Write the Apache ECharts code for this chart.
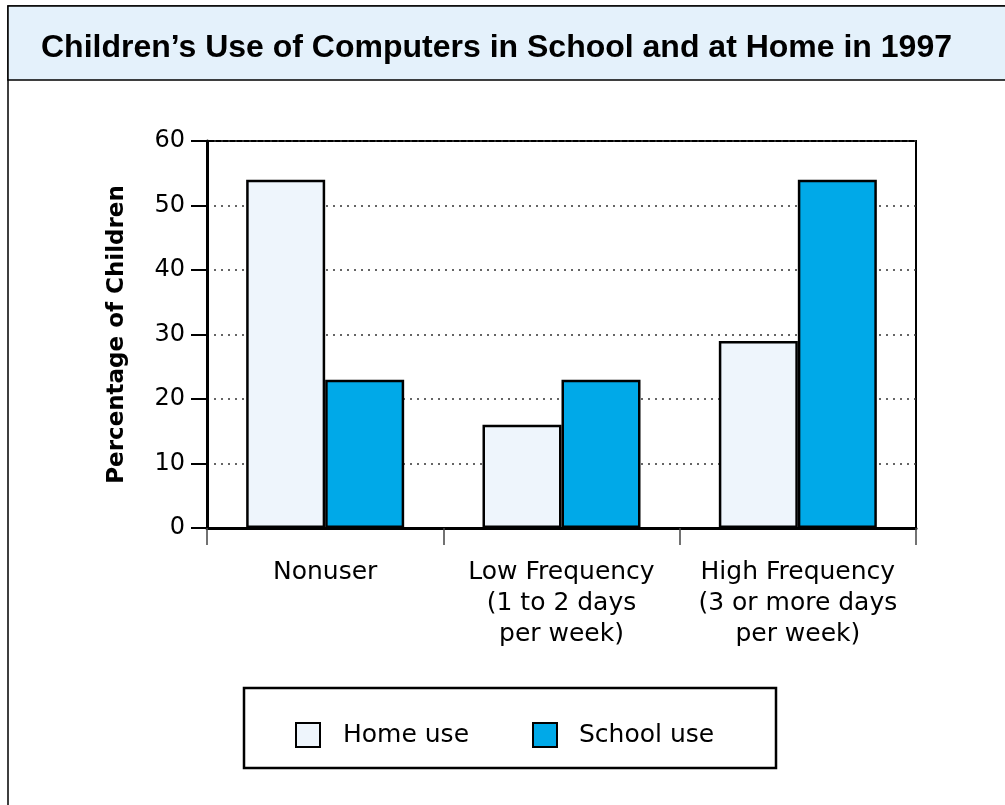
<!DOCTYPE html>
<html>
<head>
<meta charset="utf-8">
<script src="https://cdn.jsdelivr.net/npm/echarts@6/dist/echarts.min.js"></script>
<style>
  html, body { margin: 0; padding: 0; background: #fff; }
  #main { width: 1005px; height: 805px; }
</style>
</head>
<body>
<div id="main"></div>
<script>
// data
var categories = ['Nonuser', 'Low Frequency\n(1 to 2 days\nper week)', 'High Frequency\n(3 or more days\nper week)'];
var homeUse = [54, 16, 29];
var schoolUse = [23, 23, 54];
var seriesNames = ['Home use', 'School use'];

var myChart = echarts.init(document.getElementById('main'));
var bodyFont = 'DejaVu Sans';

var option = {
    backgroundColor: '#fff',
    animation: false,
    graphic: [
        // outer frame
        { type: 'rect', shape: { x: 8, y: 6, width: 1010, height: 820 },
          style: { fill: '#fff', stroke: '#000', lineWidth: 1.5 }, z: -10 },
        // title band
        { type: 'rect', shape: { x: 8, y: 6, width: 1010, height: 74 },
          style: { fill: '#e4f1fb', stroke: '#000', lineWidth: 1.5 }, z: -9 },
        // legend box
        { type: 'rect', shape: { x: 244, y: 688, width: 532, height: 80 },
          style: { fill: 'none', stroke: '#000', lineWidth: 2.5 }, z: 5 }
    ],
    title: {
        text: 'Children\u2019s Use of Computers in School and at Home in 1997',
        left: 36,
        top: 27,
        textStyle: { fontFamily: 'Liberation Sans', fontWeight: 'bold', fontSize: 32, color: '#000' }
    },
    legend: [
        { data: [seriesNames[0]], left: 290, top: 717, itemWidth: 24, itemHeight: 24, icon: 'rect',
          textStyle: { fontFamily: bodyFont, fontSize: 25, color: '#000', padding: [0, 0, 0, 18] } },
        { data: [seriesNames[1]], left: 527, top: 717, itemWidth: 24, itemHeight: 24, icon: 'rect',
          textStyle: { fontFamily: bodyFont, fontSize: 25, color: '#000', padding: [0, 0, 0, 17] } }
    ],
    grid: {
        left: 207, right: 89, top: 141, bottom: 277,
        show: true, borderColor: '#000', borderWidth: 2, backgroundColor: 'transparent'
    },
    xAxis: {
        type: 'category',
        data: categories,
        axisLine: { lineStyle: { color: '#000', width: 3 } },
        axisTick: { show: true, interval: 0, length: 17, lineStyle: { color: '#444', width: 1.5 } },
        axisLabel: { interval: 0, hideOverlap: false, margin: 29, fontFamily: bodyFont, fontSize: 25,
                     lineHeight: 31, color: '#000' }
    },
    yAxis: {
        type: 'value',
        min: 0, max: 60, interval: 10,
        name: 'Percentage of Children',
        nameLocation: 'middle',
        nameGap: 78,
        nameTextStyle: { fontFamily: bodyFont, fontWeight: 'bold', fontSize: 23, color: '#000' },
        axisLine: { show: true, lineStyle: { color: '#000', width: 3 } },
        axisTick: { show: true, length: 16, lineStyle: { color: '#000', width: 2 } },
        axisLabel: { margin: 22, fontFamily: bodyFont, fontSize: 24, color: '#000' },
        splitLine: { show: true, lineStyle: { color: '#333', width: 1.5, type: [2, 5] } }
    },
    series: [
        { name: seriesNames[0], type: 'bar', data: homeUse, barWidth: 79, barGap: '0%',
          itemStyle: { color: '#eef5fc', borderColor: '#000', borderWidth: 2.5 } },
        { name: seriesNames[1], type: 'bar', data: schoolUse, barWidth: 79,
          itemStyle: { color: '#00a9e8', borderColor: '#000', borderWidth: 2.5 } }
    ]
};
myChart.setOption(option);
</script>
</body>
</html>
